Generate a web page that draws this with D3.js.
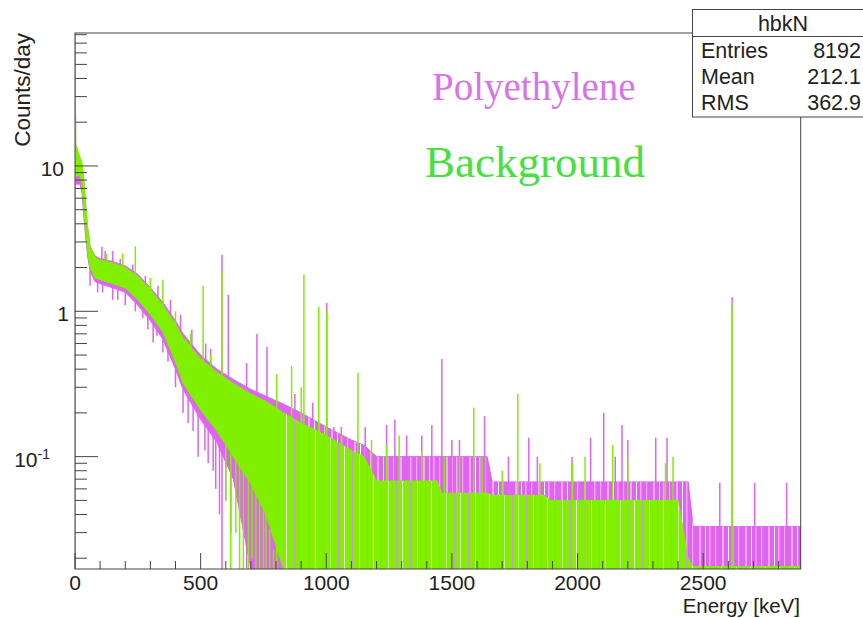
<!DOCTYPE html>
<html>
<head>
<meta charset="utf-8">
<title>hbkN spectrum</title>
<script src="https://d3js.org/d3.v7.min.js"></script>
<style>
  body { margin: 0; background: #fff; }
  text { font-family: "Liberation Sans", Arial, sans-serif; fill: #222; }
  .serif { font-family: "Liberation Serif", "Times New Roman", serif; }
</style>
</head>
<body>
<svg width="863" height="618"></svg>
<script>
// --- spectrum envelopes (counts/day), 0 = empty bin ---
const energyKnots = [0, 3, 20, 28, 35, 42, 50, 60, 80, 100, 150, 200, 250, 300, 350, 400, 430, 500, 565, 630, 700, 760, 830, 900, 1000, 1100, 1150, 1200, 1440, 1460, 1640, 1660, 1870, 1890, 2400, 2440, 2460, 2888];
const bkgLow   = [8.5, 8.5, 8.6, 7.5, 5, 3.6, 2.6, 2.0, 1.7, 1.65, 1.55, 1.45, 1.2, 0.95, 0.72, 0.45, 0.32, 0.21, 0.15, 0.1, 0.065, 0.04, 0, 0, 0, 0, 0, 0, 0, 0, 0, 0, 0, 0, 0, 0, 0, 0];
const bkgHigh  = [100, 14, 11.5, 10.5, 8, 5.6, 3.8, 2.8, 2.35, 2.25, 2.15, 2.0, 1.75, 1.42, 1.1, 0.82, 0.66, 0.47, 0.38, 0.32, 0.27, 0.24, 0.2, 0.17, 0.14, 0.11, 0.1, 0.068, 0.068, 0.056, 0.056, 0.054, 0.054, 0.05, 0.05, 0.02, 0.0175, 0.0175];
const polyLow  = [8.5, 7.5, 7.5, 6.5, 4.5, 3.3, 2.4, 1.9, 1.6, 1.55, 1.45, 1.35, 1.1, 0.86, 0.64, 0.4, 0.29, 0.18, 0.125, 0.07, 0, 0, 0, 0, 0, 0, 0, 0, 0, 0, 0, 0, 0, 0, 0, 0, 0, 0];
const polyHigh = [100, 14, 11, 10, 8, 5.5, 3.8, 2.8, 2.4, 2.3, 2.2, 2.05, 1.8, 1.45, 1.15, 0.86, 0.7, 0.5, 0.4, 0.34, 0.29, 0.26, 0.23, 0.2, 0.16, 0.13, 0.12, 0.1, 0.1, 0.1, 0.1, 0.067, 0.067, 0.067, 0.067, 0.067, 0.033, 0.033];

// single bins standing above the band
const bkgSpikeE = [125, 190, 240, 300, 350, 400, 460, 510, 540, 585, 803, 862, 900, 911, 970, 1002, 1020, 1060, 1126, 1180, 1240, 1290, 1380, 1470, 1530, 1587, 1620, 1700, 1762, 1850, 1980, 2030, 2140, 2200, 2350, 2380, 2615];
const bkgSpikeV = [2.5, 2.5, 2.8, 1.7, 1.65, 1.0, 0.7, 1.5, 0.5, 1.9, 0.37, 0.42, 0.3, 1.79, 1.07, 1.02, 0.12, 0.14, 0.377, 0.13, 0.12, 0.14, 0.11, 0.1, 0.1, 0.217, 0.1, 0.08, 0.27, 0.09, 0.09, 0.1, 0.12, 0.1, 0.09, 0.1, 1.1];
const polySpikeE = [107, 120, 150, 180, 230, 280, 330, 380, 420, 465, 520, 540, 585, 610, 683, 724, 764, 875, 946, 1002, 1030, 1060, 1155, 1240, 1273, 1320, 1380, 1420, 1460, 1500, 1530, 1630, 1725, 1806, 1840, 1978, 2052, 2104, 2150, 2177, 2200, 2311, 2356, 2566, 2615, 2705, 2832];
const polySpikeV = [2.78, 2.6, 2.6, 2.3, 2.1, 1.75, 1.5, 1.2, 0.95, 0.75, 0.6, 0.55, 2.45, 1.3, 0.44, 0.70, 0.57, 0.27, 0.235, 1.14, 0.16, 0.16, 0.16, 0.165, 0.18, 0.14, 0.14, 0.165, 0.47, 0.13, 0.13, 0.19, 0.1, 0.135, 0.1, 0.1, 0.135, 0.2, 0.1, 0.165, 0.13, 0.135, 0.135, 0.066, 1.25, 0.066, 0.066];
// single bins hanging below the band
const bkgDipE = [0.5, 600, 620, 640, 655, 670, 690, 705, 720, 735, 750, 760, 775, 790, 805, 815];
const bkgDipV = [0, 0.05, 0, 0.03, 0, 0, 0, 0.02, 0, 0, 0, 0, 0, 0, 0, 0];
const polyDipE = [60, 90, 110, 150, 170, 200, 240, 270, 290, 311, 326, 350, 370, 400, 430, 450, 470, 490, 517, 530, 550, 560, 575, 585, 600, 620];
const polyDipV = [1.5, 1.35, 1.35, 1.2, 1.2, 1.1, 1.0, 0.9, 0.75, 0.61, 0.68, 0.52, 0.45, 0.3, 0.2, 0.17, 0.15, 0.1, 0.11, 0.09, 0.08, 0.06, 0.04, 0, 0.05, 0.03];

// axis ticks
const xMajor = [0, 500, 1000, 1500, 2000, 2500];
const yMajor = [0.1, 1, 10];
const yMajorLabels = ["10", "1", "10"];

const stats = [["Entries", "8192"], ["Mean", "212.1"], ["RMS", "362.9"]];

const polyColor = "#e163f1", polyLight = "#f2a8f6";
const bkgColor = "#80f000", bkgLight = "#c7f39a", mixColor = "#c99cc6";

const svg = d3.select("svg");
const x = d3.scaleLinear().domain([0, 2888]).range([75, 800.7]);
const y = d3.scaleLog().domain([0.01686, 82.2]).range([569, 33]);
const yMin = y.domain()[0];
const yv = v => y(Math.max(v, yMin));

const defs = svg.append("defs");
defs.append("clipPath").attr("id", "plot")
  .append("rect").attr("x", 75).attr("y", 33).attr("width", 725.7).attr("height", 536);

// stripe textures standing in for the many overlapping bins
function stripes(id, base, width, marks) {
  const p = defs.append("pattern").attr("id", id).attr("patternUnits", "userSpaceOnUse")
    .attr("width", width).attr("height", 10);
  p.append("rect").attr("width", width).attr("height", 10).attr("fill", base);
  marks.forEach(m => p.append("rect").attr("x", m[0]).attr("width", m[1]).attr("height", 10).attr("fill", m[2]));
}
stripes("polyTex", polyColor, 23, [[2, 1.2, polyLight], [9, 2, polyLight], [15, 1, "#fff"], [19, 1.5, polyLight]]);
stripes("bkgTex", bkgColor, 29, [[4, 1, mixColor], [11, 1, bkgLight], [19, 1, mixColor], [25, 1, "#f4fbe9"]]);

const g = svg.append("g").attr("clip-path", "url(#plot)");

function drawSeries(lo, hi, spE, spV, dipE, dipV, color, tex, texFrom) {
  const band = d3.zip(energyKnots, lo, hi);
  const area = d3.area().x(d => x(d[0])).y0(d => yv(d[1])).y1(d => yv(d[2]));
  g.append("path").datum(band)
    .attr("fill", color).attr("stroke", color).attr("stroke-width", 1).attr("d", area);
  g.append("path").datum(band.filter(d => d[0] >= texFrom))
    .attr("fill", `url(#${tex})`).attr("d", area);
  const loAt = d3.scaleLinear().domain(energyKnots).range(lo);
  g.selectAll(null).data(d3.zip(spE, spV)).join("line")
    .attr("x1", d => x(d[0])).attr("x2", d => x(d[0]))
    .attr("y1", d => yv(loAt(d[0]))).attr("y2", d => yv(d[1]))
    .attr("stroke", color).attr("stroke-width", 1.5);
  g.selectAll(null).data(d3.zip(dipE, dipV)).join("line")
    .attr("x1", d => x(d[0])).attr("x2", d => x(d[0]))
    .attr("y1", d => yv(d[1])).attr("y2", d => yv(loAt(d[0])))
    .attr("stroke", color).attr("stroke-width", 1.5);
}
drawSeries(polyLow, polyHigh, polySpikeE, polySpikeV, polyDipE, polyDipV, polyColor, "polyTex", 900);
drawSeries(bkgLow, bkgHigh, bkgSpikeE, bkgSpikeV, bkgDipE, bkgDipV, bkgColor, "bkgTex", 830);

// frame
const axisColor = "#444";
svg.append("rect").attr("x", 75).attr("y", 33).attr("width", 725.7).attr("height", 536)
  .attr("fill", "none").attr("stroke", axisColor).attr("stroke-width", 1);

// x ticks
const xMinor = d3.range(0, 2889, 100);
svg.selectAll(null).data(xMinor).join("line")
  .attr("x1", d => x(d)).attr("x2", d => x(d))
  .attr("y1", 569).attr("y2", d => xMajor.includes(d) ? 553 : 561)
  .attr("stroke", axisColor);
svg.selectAll(null).data(xMajor).join("text")
  .attr("x", d => x(d)).attr("y", 590).attr("text-anchor", "middle")
  .attr("font-size", 21).text(d => d);
svg.append("text").attr("x", 800).attr("y", 613).attr("text-anchor", "end")
  .attr("font-size", 20.5).text("Energy [keV]");

// y ticks
const yMinor = [];
[0.01, 0.1, 1, 10].forEach(dec => d3.range(2, 10).forEach(k => {
  const v = dec * k;
  if (v > yMin && v < y.domain()[1]) yMinor.push(v);
}));
svg.selectAll(null).data(yMinor).join("line")
  .attr("x1", 75).attr("x2", 87).attr("y1", d => y(d)).attr("y2", d => y(d))
  .attr("stroke", axisColor);
svg.selectAll(null).data(yMajor).join("line")
  .attr("x1", 75).attr("x2", 98).attr("y1", d => y(d)).attr("y2", d => y(d))
  .attr("stroke", axisColor);
const labelRight = [50, 69, 64];
yMajor.forEach((v, i) => {
  const t = svg.append("text").attr("x", labelRight[i]).attr("y", y(v) + 10)
    .attr("text-anchor", "end").attr("font-size", 21).text(yMajorLabels[i]);
  if (v < 1) t.append("tspan").attr("dy", -8).attr("font-size", 14).text("-1");
});
svg.append("text").attr("transform", "translate(30,33) rotate(-90)")
  .attr("text-anchor", "end").attr("font-size", 22.5).text("Counts/day");

// legend words
svg.append("text").attr("class", "serif").attr("x", 432).attr("y", 100)
  .attr("font-size", 39).style("fill", "#d873ea").text("Polyethylene");
svg.append("text").attr("class", "serif").attr("x", 425).attr("y", 177)
  .attr("font-size", 45).style("fill", "#48e03e").text("Background");

// stats box
svg.append("rect").attr("x", 692.5).attr("y", 9.5).attr("width", 190).attr("height", 107.5)
  .attr("fill", "#fff").attr("stroke", axisColor);
svg.append("line").attr("x1", 692.5).attr("x2", 883).attr("y1", 36.5).attr("y2", 36.5)
  .attr("stroke", axisColor);
svg.append("text").attr("x", 783).attr("y", 31).attr("text-anchor", "middle")
  .attr("font-size", 21.5).text("hbkN");
stats.forEach((s, i) => {
  svg.append("text").attr("x", 701).attr("y", 58 + i * 26).attr("font-size", 21.5).text(s[0]);
  svg.append("text").attr("x", 861).attr("y", 58 + i * 26).attr("text-anchor", "end")
    .attr("font-size", 21.5).text(s[1]);
});
</script>
</body>
</html>
